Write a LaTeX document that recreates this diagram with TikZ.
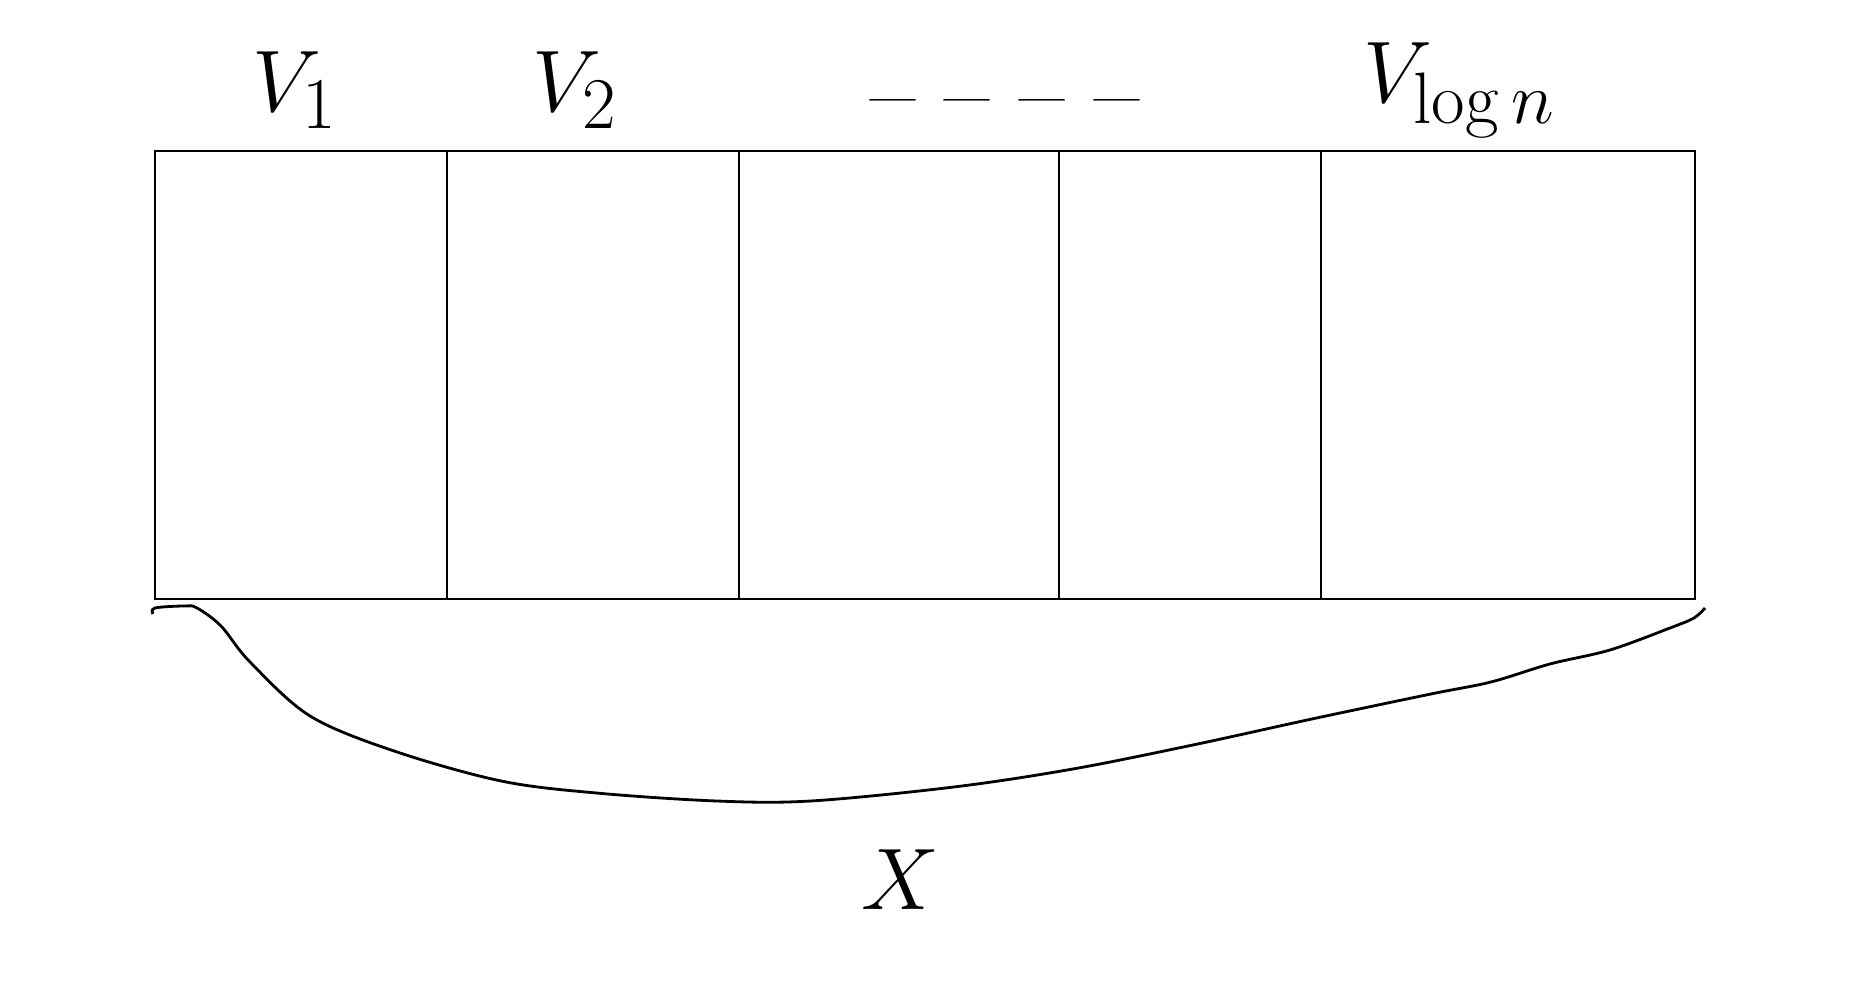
\documentclass[tikz,border=0pt]{standalone}
\usepackage{amsmath}
\usetikzlibrary{positioning}

\tikzset{
  cellbox/.style={draw, thick, minimum height=4.48cm, inner sep=0pt, outer sep=0pt},
  lbl/.style={font=\fontsize{28}{34}\selectfont}
}

\begin{document}
\begin{tikzpicture}
        \useasboundingbox (0,0) rectangle (18.7,10);

        % The array split into blocks
        \node[cellbox, minimum width=2.92cm, anchor=south west] (cellA) at (1.55,4.01) {};
        \node[cellbox, minimum width=2.92cm, anchor=west] (cellB) at (cellA.east) {};
        \node[cellbox, minimum width=3.20cm, anchor=west] (cellC) at (cellB.east) {};
        \node[cellbox, minimum width=2.62cm, anchor=west] (cellD) at (cellC.east) {};
        \node[cellbox, minimum width=3.74cm, anchor=west] (cellE) at (cellD.east) {};

        % Block names on top
        \node[lbl] (vone) at (2.95,9.1) {$V_1$};
        \node[lbl] (vtwo) at (5.75,9.1) {$V_2$};
        \node[lbl] (vdots) at (10.05,8.87) {-- -- -- --};
        \node[lbl] (vlog) at (14.6,9.1) {$V_{\log n}$};

        % Brace under the whole array
        \draw[thick] plot[smooth, tension=0.55] coordinates {
          (1.53,3.86) (1.55,3.92) (1.85,3.94) (1.97,3.92) (2.21,3.74)
          (2.50,3.38) (3.10,2.84) (3.94,2.49) (5.01,2.19) (5.96,2.07)
          (7.16,1.99) (8.11,1.99) (9.54,2.13) (10.73,2.31) (11.93,2.55)
          (13.12,2.81) (14.31,3.06) (14.91,3.18) (15.50,3.36) (16.10,3.50)
          (16.70,3.72) (16.94,3.82) (17.05,3.92)};
        \node[lbl] (xall) at (9.0,1.2) {$X$};

        \end{tikzpicture}
\end{document}
